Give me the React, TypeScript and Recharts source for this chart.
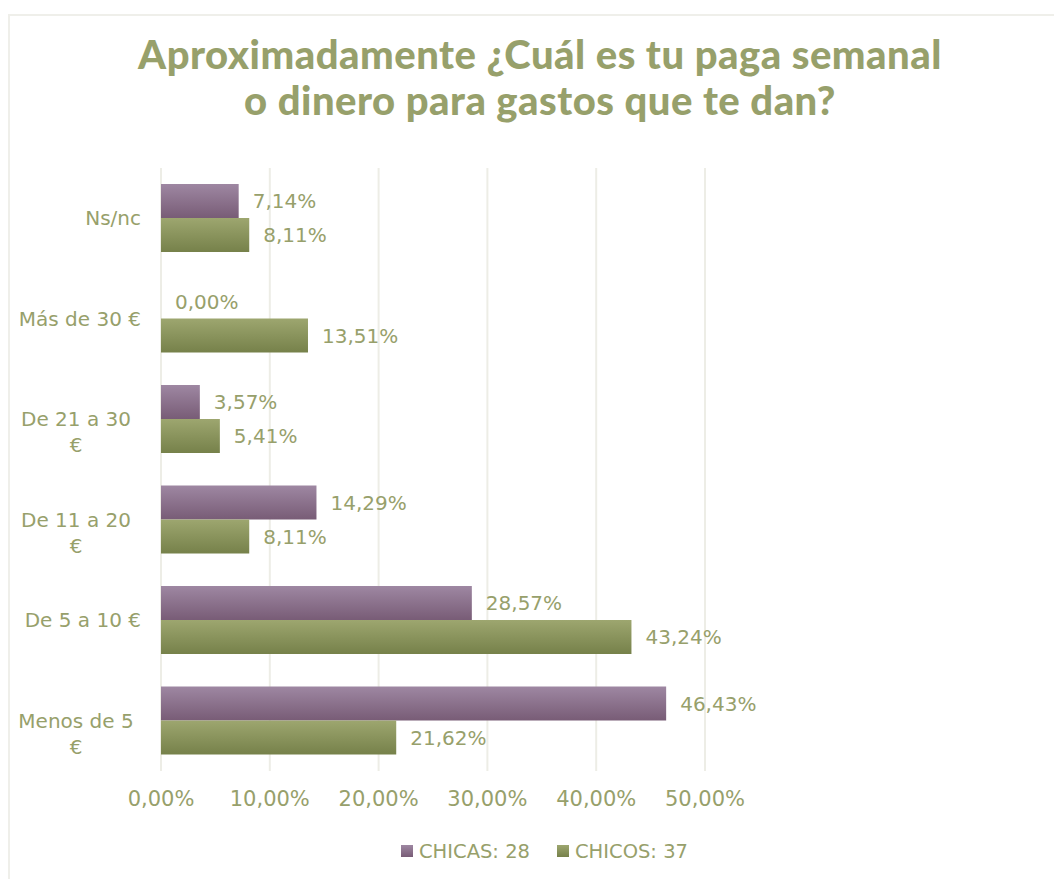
import React from "react"
import { BarChart, Bar, XAxis, YAxis, CartesianGrid, Legend, LabelList } from "recharts"

const categories = ["Ns/nc", "Más de 30 €", "De 21 a 30 €", "De 11 a 20 €", "De 5 a 10 €", "Menos de 5 €"]
const chicas = [7.14, 0, 3.57, 14.29, 28.57, 46.43]
const chicos = [8.11, 13.51, 5.41, 8.11, 43.24, 21.62]
const xTicks = [0, 10, 20, 30, 40, 50]
const seriesNames = ["CHICAS: 28", "CHICOS: 37"]
const titleLines = ["Aproximadamente ¿Cuál es tu paga semanal", "o dinero para gastos que te dan?"]

const data = categories.map((cat, i) => ({ cat, chicas: chicas[i], chicos: chicos[i] }))

const OLIVE = "#97A06B"
const FONT = "'DejaVu Sans', sans-serif"

const pct = (v: any) => Number(v).toFixed(2).replace(".", ",") + "%"

const CategoryTick = (props: any) => {
	const { x, y, payload } = props
	const label: string = payload.value
	let lines = [label]
	if (label.length > 11) {
		const cut = label.lastIndexOf(" ")
		lines = [label.slice(0, cut), label.slice(cut + 1)]
	}
	if (lines.length === 1) {
		return (
			<text x={x - 20} y={y} dy="0.35em" textAnchor="end" fill={OLIVE} fontSize={20} fontFamily={FONT}>
				{label}
			</text>
		)
	}
	return (
		<g>
			{lines.map((l, i) => (
				<text key={i} x={x - 85} y={y + i * 26} dy="0.35em" textAnchor="middle" fill={OLIVE} fontSize={20} fontFamily={FONT}>
					{l}
				</text>
			))}
		</g>
	)
}

const LegendContent = () => {
	return (
		<svg width={292} height={30} style={{ display: "block", margin: "0 auto" }}>
			<defs>
				<linearGradient id="legChicas" x1="0" y1="0" x2="0" y2="1">
					<stop offset="0%" stopColor="#9E87A2" />
					<stop offset="100%" stopColor="#785C76" />
				</linearGradient>
				<linearGradient id="legChicos" x1="0" y1="0" x2="0" y2="1">
					<stop offset="0%" stopColor="#9DA66F" />
					<stop offset="100%" stopColor="#76814A" />
				</linearGradient>
			</defs>
			{seriesNames.map((name, i) => (
				<g key={name} transform={`translate(${i * 156}, 0)`}>
					<rect x={0} y={9} width={12} height={12} fill={i === 0 ? "url(#legChicas)" : "url(#legChicos)"} />
					<text x={18} y={15} dy="0.35em" fill={OLIVE} fontSize={19.5} fontFamily={FONT}>
						{name}
					</text>
				</g>
			))}
		</svg>
	)
}

const App = () => {
	return (
		<div style={{ position: "fixed", left: 8, top: 14, width: 1046, height: 865, overflow: "hidden" }}>
			<div
				style={{
					position: "relative",
					width: 1064,
					height: 880,
					border: "2px solid #EFEFEA",
					boxSizing: "border-box",
					background: "#fff",
				}}>
				<div
					style={{
						position: "absolute",
						top: 15,
						left: 0,
						width: 1060,
						textAlign: "center",
						color: "#97A06B",
						fontFamily: "Lato, sans-serif",
						fontWeight: 900,
						fontSize: 40,
						letterSpacing: 0.5,
						lineHeight: "46px",
					}}>
					{titleLines.map((t) => (
						<div key={t}>{t}</div>
					))}
				</div>
				<BarChart
					width={1060}
					height={876}
					data={data}
					layout='vertical'
					barCategoryGap='16%'
					barGap={0}
					margin={{ top: 152, right: 365, left: 0, bottom: 26 }}>
					<defs>
						<linearGradient id="gradChicas" x1="0" y1="0" x2="0" y2="1">
							<stop offset="0%" stopColor="#9E87A2" />
							<stop offset="100%" stopColor="#785C76" />
						</linearGradient>
						<linearGradient id="gradChicos" x1="0" y1="0" x2="0" y2="1">
							<stop offset="0%" stopColor="#9DA66F" />
							<stop offset="100%" stopColor="#76814A" />
						</linearGradient>
					</defs>
					<CartesianGrid horizontal={false} stroke='#EDEDE6' strokeWidth={2} />
					<XAxis
						type='number'
						domain={[0, 50]}
						ticks={xTicks}
						tickFormatter={pct}
						axisLine={false}
						tickLine={false}
						tickSize={0}
						tickMargin={20}
						height={65}
						tick={{ fill: OLIVE, fontSize: 21, fontFamily: FONT }}
					/>
					<YAxis
						type='category'
						dataKey='cat'
						width={151}
						axisLine={false}
						tickLine={false}
						tickSize={0}
						tickMargin={0}
						tick={<CategoryTick />}
					/>
					<Legend
						verticalAlign='bottom'
						height={30}
						wrapperStyle={{ left: 0, width: 1074 }}
						content={<LegendContent />}
					/>
					<Bar dataKey='chicas' name={seriesNames[0]} fill='url(#gradChicas)' minPointSize={0.01} isAnimationActive={false}>
						<LabelList dataKey='chicas' position='right' offset={14} formatter={pct} fill={OLIVE} fontSize={20} fontFamily={FONT} />
					</Bar>
					<Bar dataKey='chicos' name={seriesNames[1]} fill='url(#gradChicos)' isAnimationActive={false}>
						<LabelList dataKey='chicos' position='right' offset={14} formatter={pct} fill={OLIVE} fontSize={20} fontFamily={FONT} />
					</Bar>
				</BarChart>
			</div>
		</div>
	)
}

export default App
